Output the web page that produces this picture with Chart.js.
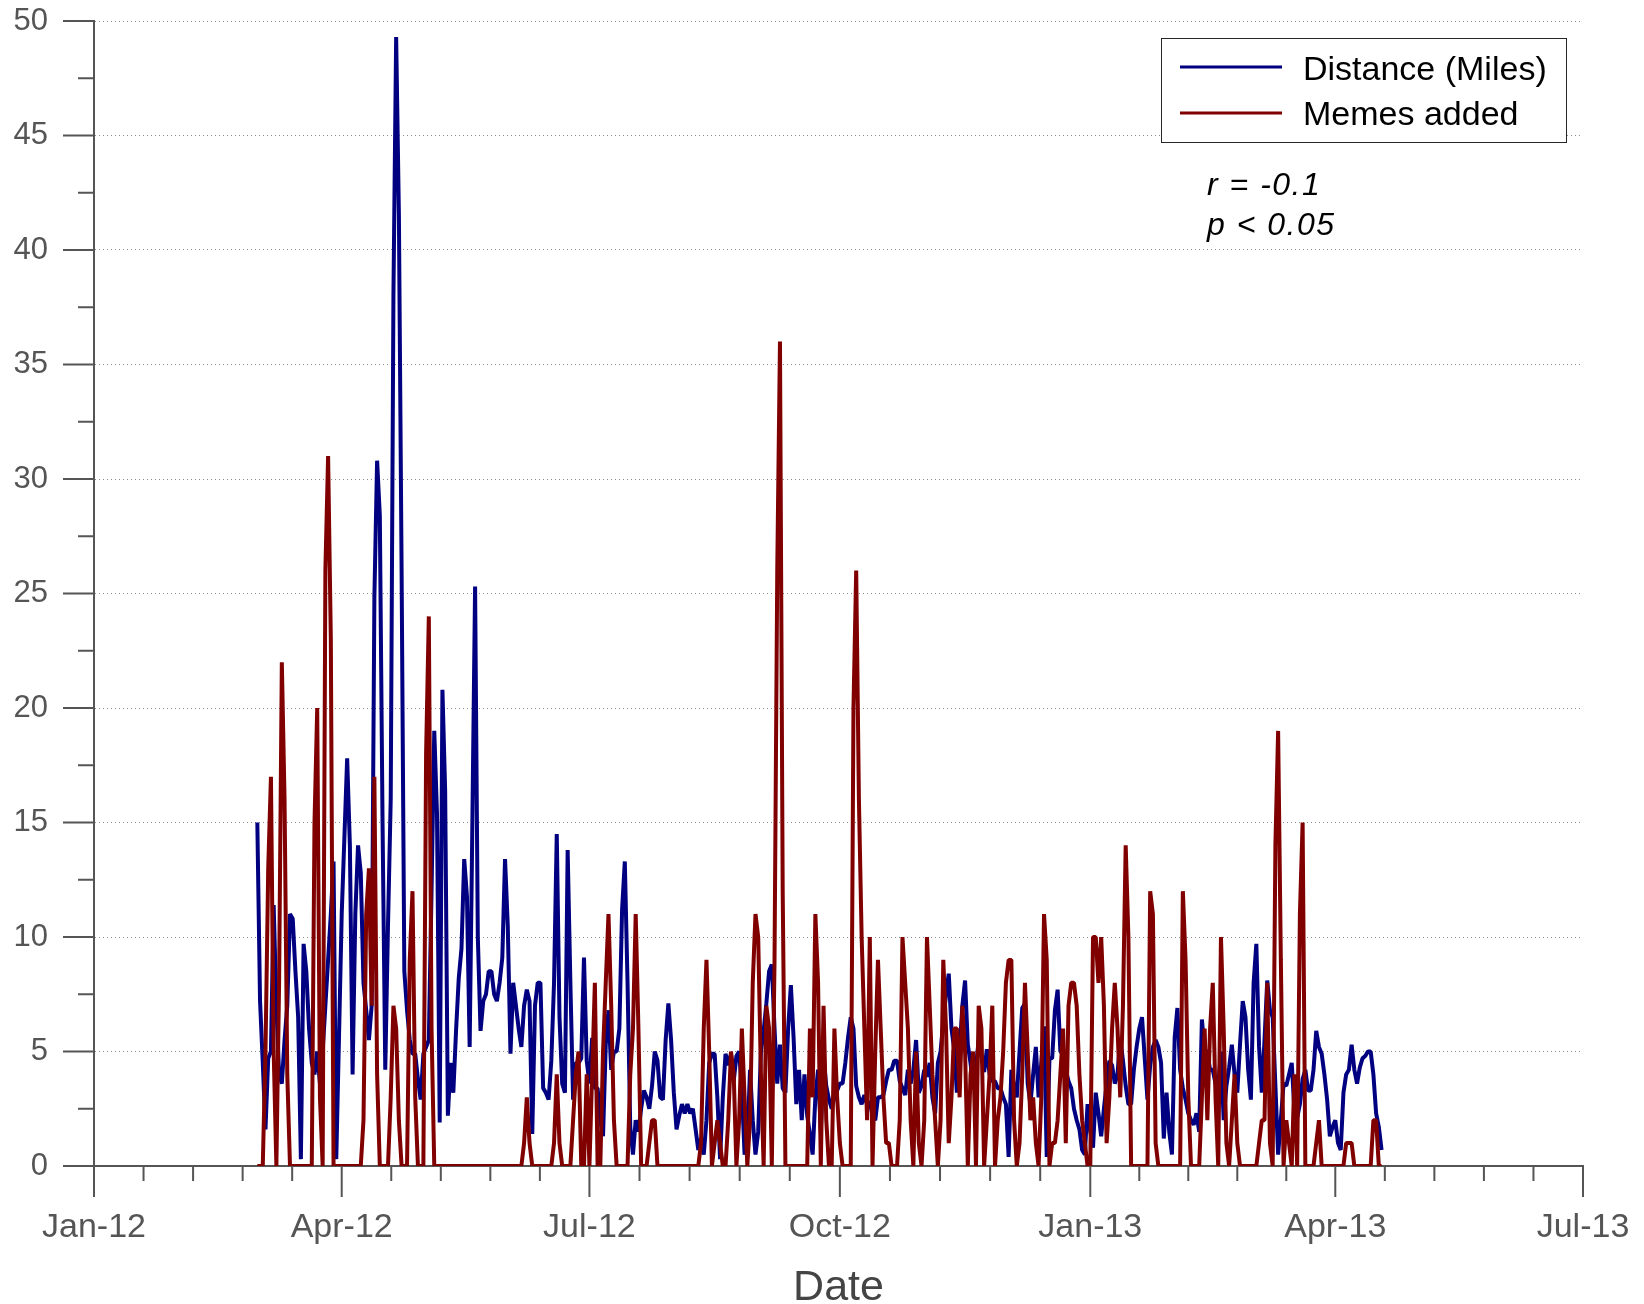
<!DOCTYPE html>
<html>
<head>
<meta charset="utf-8">
<title>Distance (Miles) and Memes added by date</title>
<script src="https://cdn.jsdelivr.net/npm/chart.js@4.4.1/dist/chart.umd.min.js"></script>
<style>
  html, body { margin: 0; padding: 0; background: #fff; }
  #wrap { width: 1644px; height: 1304px; }
</style>
</head>
<body>
<div id="wrap"><canvas id="chart" width="1644" height="1304"></canvas></div>
<script>
// Daily values, first one is for startDate (Mar 1, 2012), last one Apr 18, 2013
const startDate = '2012-03-01';

const distance = [
  15, 7.2, 4.5, 1.6, 4.7, 5, 11.4, 7, 4, 3.6,
  5.5, 7, 11, 10.8, 8.5, 6.5, 0.3, 9.7, 8.5, 6,
  4.5, 4, 5, 3.6, 5, 7, 9, 11, 13.3, 0.3,
  5.6, 11, 14.4, 17.8, 14, 4, 11, 14, 12.8, 8,
  6.8, 5.5, 7, 24.8, 30.8, 28.4, 15, 4.2, 10.5, 16,
  38, 49.3, 41.6, 26, 8.5, 6.8, 5.5, 4.9, 4.9, 3.8,
  2.9, 4.9, 5.2, 5.5, 12, 19, 15.4, 1.9, 20.8, 16.4,
  2.2, 4.5, 3.2, 5.9, 8.2, 9.5, 13.4, 11.8, 5.2, 15,
  25.3, 10, 5.9, 7.2, 7.5, 8.5, 8.5, 7.5, 7.2, 8,
  9.1, 13.4, 10.5, 4.9, 8, 7, 6, 5.2, 7, 7.7,
  7.2, 1.4, 7, 8, 8, 3.4, 3.2, 2.9, 4.6, 8,
  14.5, 6.5, 3.6, 3.2, 13.8, 8, 2.9, 4.5, 4.5, 4.7,
  9.1, 4.6, 3.6, 5.6, 3.4, 3.4, 2, 1.3, 5.3, 6.8,
  4.2, 5, 5, 6, 11.2, 13.3, 8, 1.7, 0.5, 2,
  1.5, 2.5, 3.3, 3, 2.5, 3.5, 5, 4.6, 3, 2.9,
  5.5, 7.1, 5.5, 3.2, 1.6, 2.2, 2.7, 2.3, 2.7, 2.3,
  2.5, 1.6, 0.7, 1.2, 0.5, 2, 4.5, 4.9, 4.9, 3,
  0.3, 3, 4.9, 4.4, 4.9, 3.7, 4.8, 5, 3.3, 0.5,
  1, 4.2, 2, 0.5, 1.5, 5, 5.9, 7.1, 8.5, 8.8,
  6, 3.6, 5.3, 3.4, 3.2, 6, 7.9, 5.6, 2.7, 4.2,
  2, 4, 2.2, 1.4, 0.5, 3, 4.2, 1.5, 4.8, 3.5,
  2.9, 2.5, 3, 3.3, 3.6, 3.6, 4.5, 5.6, 6.5, 6,
  3.5, 3, 2.7, 3.1, 2.7, 2.8, 2.2, 2, 3, 3,
  3.1, 3.7, 4.2, 4.2, 4.6, 4.6, 3.7, 3.4, 3.1, 4.2,
  3.6, 4.2, 5.5, 3.2, 3.5, 4.2, 3.9, 4.5, 3, 2.3,
  4.5, 5, 6.3, 7.5, 8.4, 6, 5.1, 3.2, 5, 7,
  8.1, 5.3, 4.5, 3.4, 4.3, 5.5, 4.8, 4.1, 5.1, 4,
  3.7, 3.7, 3.4, 3.4, 3, 2.7, 0.4, 4.2, 3.5, 3,
  5, 6.9, 7.1, 3.6, 2.7, 4, 5.2, 3, 4.5, 6.1,
  0.4, 4.7, 4.7, 6.8, 7.7, 5, 4.9, 4.2, 3.7, 3.4,
  2.5, 2, 1.6, 0.7, 0.5, 2.7, 1.5, 0.8, 3.2, 2.3,
  1.3, 2.5, 3.6, 4.6, 4.4, 3.6, 4, 5.6, 4.6, 3.5,
  2.7, 2.7, 4.2, 5.2, 6, 6.5, 4.7, 2.9, 4.4, 5.2,
  5.5, 5.2, 4.5, 1.2, 3.2, 1.5, 0.5, 5.6, 6.9, 4.2,
  3.4, 2.9, 2.3, 2, 1.8, 2.3, 1.5, 6.4, 5, 5,
  4.2, 4.2, 3.6, 3.5, 5, 2, 3.5, 4.3, 5.3, 4,
  3.2, 5.3, 7.2, 6.5, 4.2, 2.9, 8, 9.7, 5.2, 3.2,
  5.5, 8.1, 6.8, 6.5, 3.5, 0.5, 2, 3.6, 3.5, 4,
  4.5, 2.4, 2.1, 2.7, 3.8, 4.2, 3.3, 3.3, 4.2, 5.9,
  5.2, 4.9, 4, 2.9, 1.3, 1.7, 2, 1, 0.7, 3.2,
  4, 4.2, 5.3, 4.2, 3.6, 4.3, 4.7, 4.8, 5, 5,
  4, 2.3, 1.7, 0.7
];

const memes = [
  0, 0, 0, 5, 13, 17, 5, 0, 8, 22,
  16, 4, 0, 0, 0, 0, 0, 0, 0, 0,
  0, 15, 20, 3, 0, 26, 31, 23, 0, 0,
  0, 0, 0, 0, 0, 0, 0, 0, 0, 2,
  11, 13, 7, 17, 4, 0, 0, 0, 0, 3,
  7, 6, 2, 0, 0, 0, 9, 12, 3, 0,
  0, 0, 18, 24, 6, 0, 0, 0, 0, 0,
  0, 0, 0, 0, 0, 0, 0, 0, 0, 0,
  0, 0, 0, 0, 0, 0, 0, 0, 0, 0,
  0, 0, 0, 0, 0, 0, 0, 0, 1, 3,
  1, 0, 0, 0, 0, 0, 0, 0, 0, 1,
  4, 1, 0, 0, 0, 0, 2, 4, 5, 0,
  0, 4, 0, 4, 8, 0, 0, 5, 8, 11,
  7, 2, 0, 0, 0, 0, 0, 4, 6, 11,
  6, 0, 0, 0, 1, 2, 2, 0, 0, 0,
  0, 0, 0, 0, 0, 0, 0, 0, 0, 0,
  0, 0, 0, 1, 6, 9, 5, 0, 1, 2,
  1, 0, 0, 2, 5, 4, 0, 2, 6, 3,
  0, 2, 8, 11, 10, 4, 0, 7, 6, 0,
  9, 26, 36, 12, 0, 0, 0, 0, 0, 0,
  0, 0, 0, 6, 3, 11, 8, 0, 7, 2,
  0, 0, 6, 3, 1, 0, 0, 0, 0, 20,
  26, 16, 10, 6, 2, 10, 0, 5, 9, 6,
  3, 1, 1, 0, 0, 0, 2, 10, 8, 6,
  2, 0, 5, 1, 0, 2, 10, 7, 4, 2,
  0, 2, 9, 6, 1, 3, 6, 6, 3, 7,
  5, 0, 4, 5, 0, 7, 6, 0, 2, 4,
  7, 0, 2, 3, 5, 8, 9, 9, 2, 0,
  1, 4, 8, 5, 2, 3, 1, 0, 3, 11,
  9, 0, 1, 1, 2, 4, 6, 1, 7, 8,
  8, 7, 4, 2, 1, 0, 0, 10, 10, 8,
  10, 7, 1, 3, 6, 8, 6, 3, 7, 14,
  10, 0, 0, 0, 0, 0, 0, 0, 12, 11,
  1, 0, 0, 0, 0, 0, 0, 0, 0, 0,
  12, 9, 3, 0, 0, 0, 0, 3, 6, 2,
  6, 8, 3, 0, 10, 6, 1, 0, 2, 4,
  1, 0, 0, 0, 0, 0, 0, 0, 1, 2,
  2, 8, 1, 0, 14, 19, 9, 0, 2, 1,
  0, 4, 0, 11, 15, 0, 0, 0, 0, 1,
  2, 0, 0, 0, 0, 0, 0, 0, 0, 0,
  1, 1, 1, 0, 0, 0, 0, 0, 0, 0,
  2, 2, 0, 0
];

const xTickDates = ['2012-01-01', '2012-04-01', '2012-07-01', '2012-10-01', '2013-01-01', '2013-04-01', '2013-07-01'];
const xTickLabels = ['Jan-12', 'Apr-12', 'Jul-12', 'Oct-12', 'Jan-13', 'Apr-13', 'Jul-13'];
const yTicks = [0, 5, 10, 15, 20, 25, 30, 35, 40, 45, 50];
const seriesLabels = ['Distance (Miles)', 'Memes added'];
const seriesColors = ['#000080', '#800000'];
const statsLines = ['r = -0.1', 'p < 0.05'];

const FONT = '"Liberation Sans", Arial, Helvetica, sans-serif';
const AXIS_GREY = '#555555';
const NONE = 'rgba(0,0,0,0)';

// days since Jan 1 2012, used as the x value
function dayOf(s) {
  const [y, m, d] = s.split('-').map(Number);
  return Math.round((Date.UTC(y, m - 1, d) - Date.UTC(2012, 0, 1)) / 86400000);
}

const startDay = dayOf(startDate);
const xTickDays = xTickDates.map(dayOf);
const toPoints = arr => arr.map((v, i) => ({ x: startDay + i, y: v }));

// tick marks (long major, short minor), legend box and r/p note
const decorPlugin = {
  id: 'decor',
  afterDraw(chart) {
    const ctx = chart.ctx;
    const xs = chart.scales.x, ys = chart.scales.y;
    const area = chart.chartArea;
    ctx.save();
    ctx.strokeStyle = AXIS_GREY;
    ctx.lineWidth = 2;
    ctx.beginPath();
    for (let i = 0; i < xTickDays.length; i++) {
      const px = xs.getPixelForValue(xTickDays[i]);
      ctx.moveTo(px, area.bottom);
      ctx.lineTo(px, area.bottom + 31);
      if (i < xTickDays.length - 1) {
        const a = xTickDays[i], b = xTickDays[i + 1];
        for (let k = 1; k < 5; k++) {
          const mx = xs.getPixelForValue(a + (b - a) * k / 5);
          ctx.moveTo(mx, area.bottom);
          ctx.lineTo(mx, area.bottom + 15);
        }
      }
    }
    yTicks.forEach((v, i) => {
      const py = ys.getPixelForValue(v);
      ctx.moveTo(area.left - 31, py);
      ctx.lineTo(area.left, py);
      if (i < yTicks.length - 1) {
        const my = ys.getPixelForValue((v + yTicks[i + 1]) / 2);
        ctx.moveTo(area.left - 16, my);
        ctx.lineTo(area.left, my);
      }
    });
    ctx.stroke();

    // legend
    const bx = 1161.5, by = 38.5, bw = 405, bh = 104;
    ctx.fillStyle = '#ffffff';
    ctx.fillRect(bx, by, bw, bh);
    ctx.strokeStyle = '#262626';
    ctx.lineWidth = 1;
    ctx.strokeRect(bx, by, bw, bh);
    ctx.font = '34px ' + FONT;
    ctx.textBaseline = 'alphabetic';
    ctx.textAlign = 'left';
    const rowY = [67, 113];
    const baseY = [80, 125];
    seriesLabels.forEach((label, i) => {
      ctx.strokeStyle = seriesColors[i];
      ctx.lineWidth = 3;
      ctx.beginPath();
      ctx.moveTo(1180, rowY[i]);
      ctx.lineTo(1282, rowY[i]);
      ctx.stroke();
      ctx.fillStyle = '#000000';
      ctx.fillText(label, 1303, baseY[i]);
    });

    // correlation note
    ctx.font = 'italic 32px ' + FONT;
    ctx.letterSpacing = '1.5px';
    ctx.fillStyle = '#000000';
    ctx.fillText(statsLines[0], 1207, 195);
    ctx.fillText(statsLines[1], 1207, 235);
    ctx.restore();
  }
};

new Chart(document.getElementById('chart'), {
  type: 'line',
  data: {
    datasets: [
      {
        label: seriesLabels[0],
        data: toPoints(distance),
        borderColor: seriesColors[0],
        backgroundColor: seriesColors[0],
        borderWidth: 4,
        borderJoinStyle: 'bevel',
        pointRadius: 0,
        tension: 0,
        order: 1
      },
      {
        label: seriesLabels[1],
        data: toPoints(memes),
        borderColor: seriesColors[1],
        backgroundColor: seriesColors[1],
        borderWidth: 4,
        borderJoinStyle: 'bevel',
        pointRadius: 0,
        tension: 0,
        order: 0
      }
    ]
  },
  options: {
    responsive: false,
    animation: false,
    devicePixelRatio: 1,
    layout: { padding: { top: 21, right: 61, left: 0, bottom: 0 } },
    plugins: {
      legend: { display: false },
      tooltip: { enabled: false }
    },
    scales: {
      x: {
        type: 'linear',
        min: xTickDays[0],
        max: xTickDays[xTickDays.length - 1],
        afterFit: scale => { scale.height = 138; },
        afterBuildTicks: scale => {
          scale.ticks = xTickDays.map(d => ({ value: d }));
        },
        // invisible tick marks only push the labels down; real ticks come from the plugin
        grid: { display: true, drawOnChartArea: false, drawTicks: true, tickLength: 41, tickColor: NONE, color: NONE },
        border: { display: true, color: AXIS_GREY, width: 2 },
        ticks: {
          autoSkip: false,
          maxRotation: 0,
          padding: 0,
          color: AXIS_GREY,
          font: { family: FONT, size: 34 },
          callback: (value) => xTickLabels[xTickDays.indexOf(value)]
        },
        title: {
          display: true,
          text: 'Date',
          color: '#444444',
          font: { family: FONT, size: 43, lineHeight: 0.75 },
          padding: { top: 0, bottom: 0 }
        }
      },
      y: {
        min: 0,
        max: 50,
        afterFit: scale => { scale.width = 94; },
        afterBuildTicks: scale => {
          scale.ticks = yTicks.map(v => ({ value: v }));
        },
        grid: {
          drawTicks: true,
          tickLength: 46,
          tickColor: NONE,
          color: ctx => (ctx.tick && ctx.tick.value === 0) ? NONE : '#8c8c8c',
          lineWidth: 1
        },
        border: { display: true, color: AXIS_GREY, width: 2, dash: [1, 3] },
        ticks: {
          padding: 0,
          color: AXIS_GREY,
          font: { family: FONT, size: 31 },
          callback: v => String(v)
        }
      }
    }
  },
  plugins: [decorPlugin]
});
</script>
</body>
</html>
